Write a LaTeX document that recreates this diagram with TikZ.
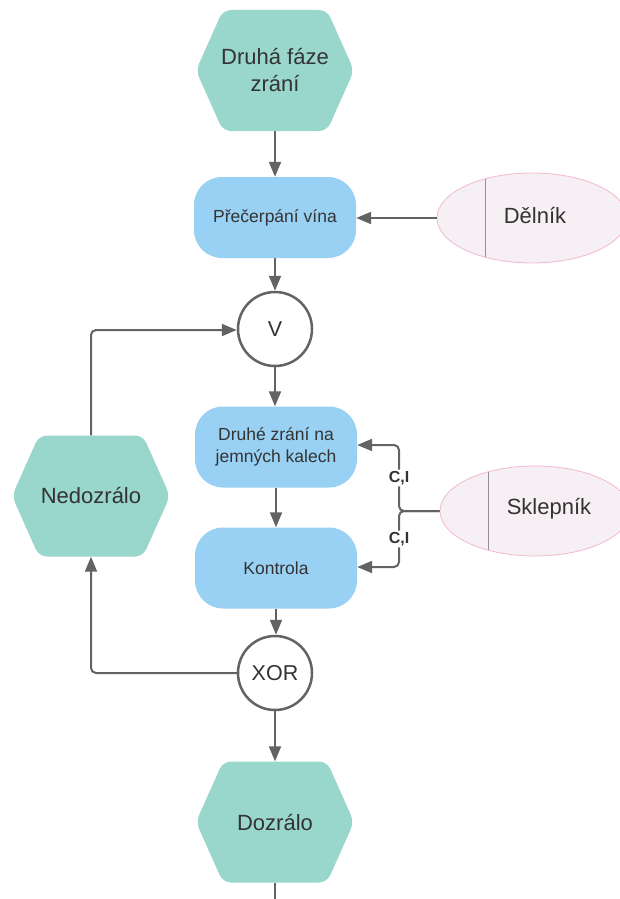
\documentclass[tikz,border=0pt]{standalone}
\usepackage{fontspec}
\setmainfont{Liberation Sans}
\usetikzlibrary{arrows.meta,shapes.geometric}

\definecolor{hexfill}{HTML}{99D6CB}
\definecolor{funcfill}{HTML}{99D1F4}
\definecolor{orgfill}{HTML}{F6EFF3}
\definecolor{orgline}{HTML}{F2B8D3}
\definecolor{linegray}{HTML}{636363}
\definecolor{txt}{HTML}{333333}

\tikzset{
  event/.style={minimum width=158pt, minimum height=121pt, inner sep=0pt,
    text=txt, align=center, font=\fontsize{22}{27}\selectfont,
    path picture={
      \fill[hexfill, rounded corners=8pt]
        (path picture bounding box.west)
        -- ([xshift=27pt]path picture bounding box.north west)
        -- ([xshift=-27pt]path picture bounding box.north east)
        -- (path picture bounding box.east)
        -- ([xshift=-27pt]path picture bounding box.south east)
        -- ([xshift=27pt]path picture bounding box.south west)
        -- cycle;}},
  func/.style={rectangle, rounded corners=28pt, fill=funcfill,
    minimum width=162pt, minimum height=81pt, inner sep=0pt,
    text=txt, align=center, font=\fontsize{17.5}{22}\selectfont},
  conn/.style={circle, draw=linegray, line width=2.5pt, fill=white,
    minimum size=74pt, inner sep=0pt, text=txt,
    font=\fontsize{21.5}{26}\selectfont},
  org/.style={ellipse, draw=orgline, line width=0.8pt, fill=orgfill,
    minimum width=190pt, minimum height=90pt, inner sep=0pt},
  orgtext/.style={text=txt, font=\fontsize{22}{27}\selectfont},
  flow/.style={draw=linegray, line width=2pt, rounded corners=5pt,
    -{Triangle[length=15pt,width=12pt]}},
  plain/.style={draw=linegray, line width=2pt, rounded corners=5pt},
  role/.style={fill=white, inner sep=1.5pt, text=txt,
    font=\bfseries\fontsize{16}{19}\selectfont}
}

\begin{document}
\begin{tikzpicture}[x=1pt, y=-1pt]
  \useasboundingbox[fill=white] (0,0) rectangle (619,899);

  % process chain
  \node[event] (e1) at (275,70.5) {Druhá fáze\\zrání};
  \node[func] (f1) at (275,217.5) {Přečerpání vína};
  \node[conn] (v) at (275,329) {V};
  \node[func] (f2) at (276,447) {Druhé zrání na\\jemných kalech};
  \node[func] (f3) at (276,568) {Kontrola};
  \node[conn] (x) at (275,673) {XOR};
  \node[event] (e2) at (275,822) {Dozrálo};
  \node[event] (e3) at (91,496) {Nedozrálo};
  \coordinate (tail) at (275,899);

  % organisational units
  \node[org] (o1) at (532,218) {};
  \draw[linegray!70, line width=1pt] (485,179) -- (485,257);
  \node[orgtext] (o1t) at (535,216) {Dělník};
  \node[org] (o2) at (535,511) {};
  \draw[linegray!70, line width=1pt] (488,472) -- (488,550);
  \node[orgtext] (o2t) at (549,509) {Sklepník};

  % control flow
  \draw[flow] (e1.south) -- (f1.north);
  \draw[flow] (f1.south) -- (v.north);
  \draw[flow] (v.south) -- (v.south |- f2.north);
  \draw[flow] (f2.south) -- (f3.north);
  \draw[flow] (f3.south) -- (f3.south |- x.north);
  \draw[flow] (x.south) -- (x.south |- e2.north);
  \draw[plain] (e2.south) -- (tail);
  \draw[flow] (x.west) -| (e3.south);
  \draw[flow] (e3.north) |- ([yshift=-1pt]v.west);

  % assignments
  \draw[flow] (o1.west) -- (o1.west -| f1.east);
  \coordinate (j) at (399,511);
  \coordinate (h1) at (0,445);
  \coordinate (h2) at (0,567);
  \draw[flow] (o2.west) -- (j) |- (h1 -| f2.east)
    node[role, pos=0.25] (ci1) {C,I};
  \draw[flow] (o2.west) -- (j) |- (h2 -| f3.east)
    node[role, pos=0.25] (ci2) {C,I};
\end{tikzpicture}
\end{document}
